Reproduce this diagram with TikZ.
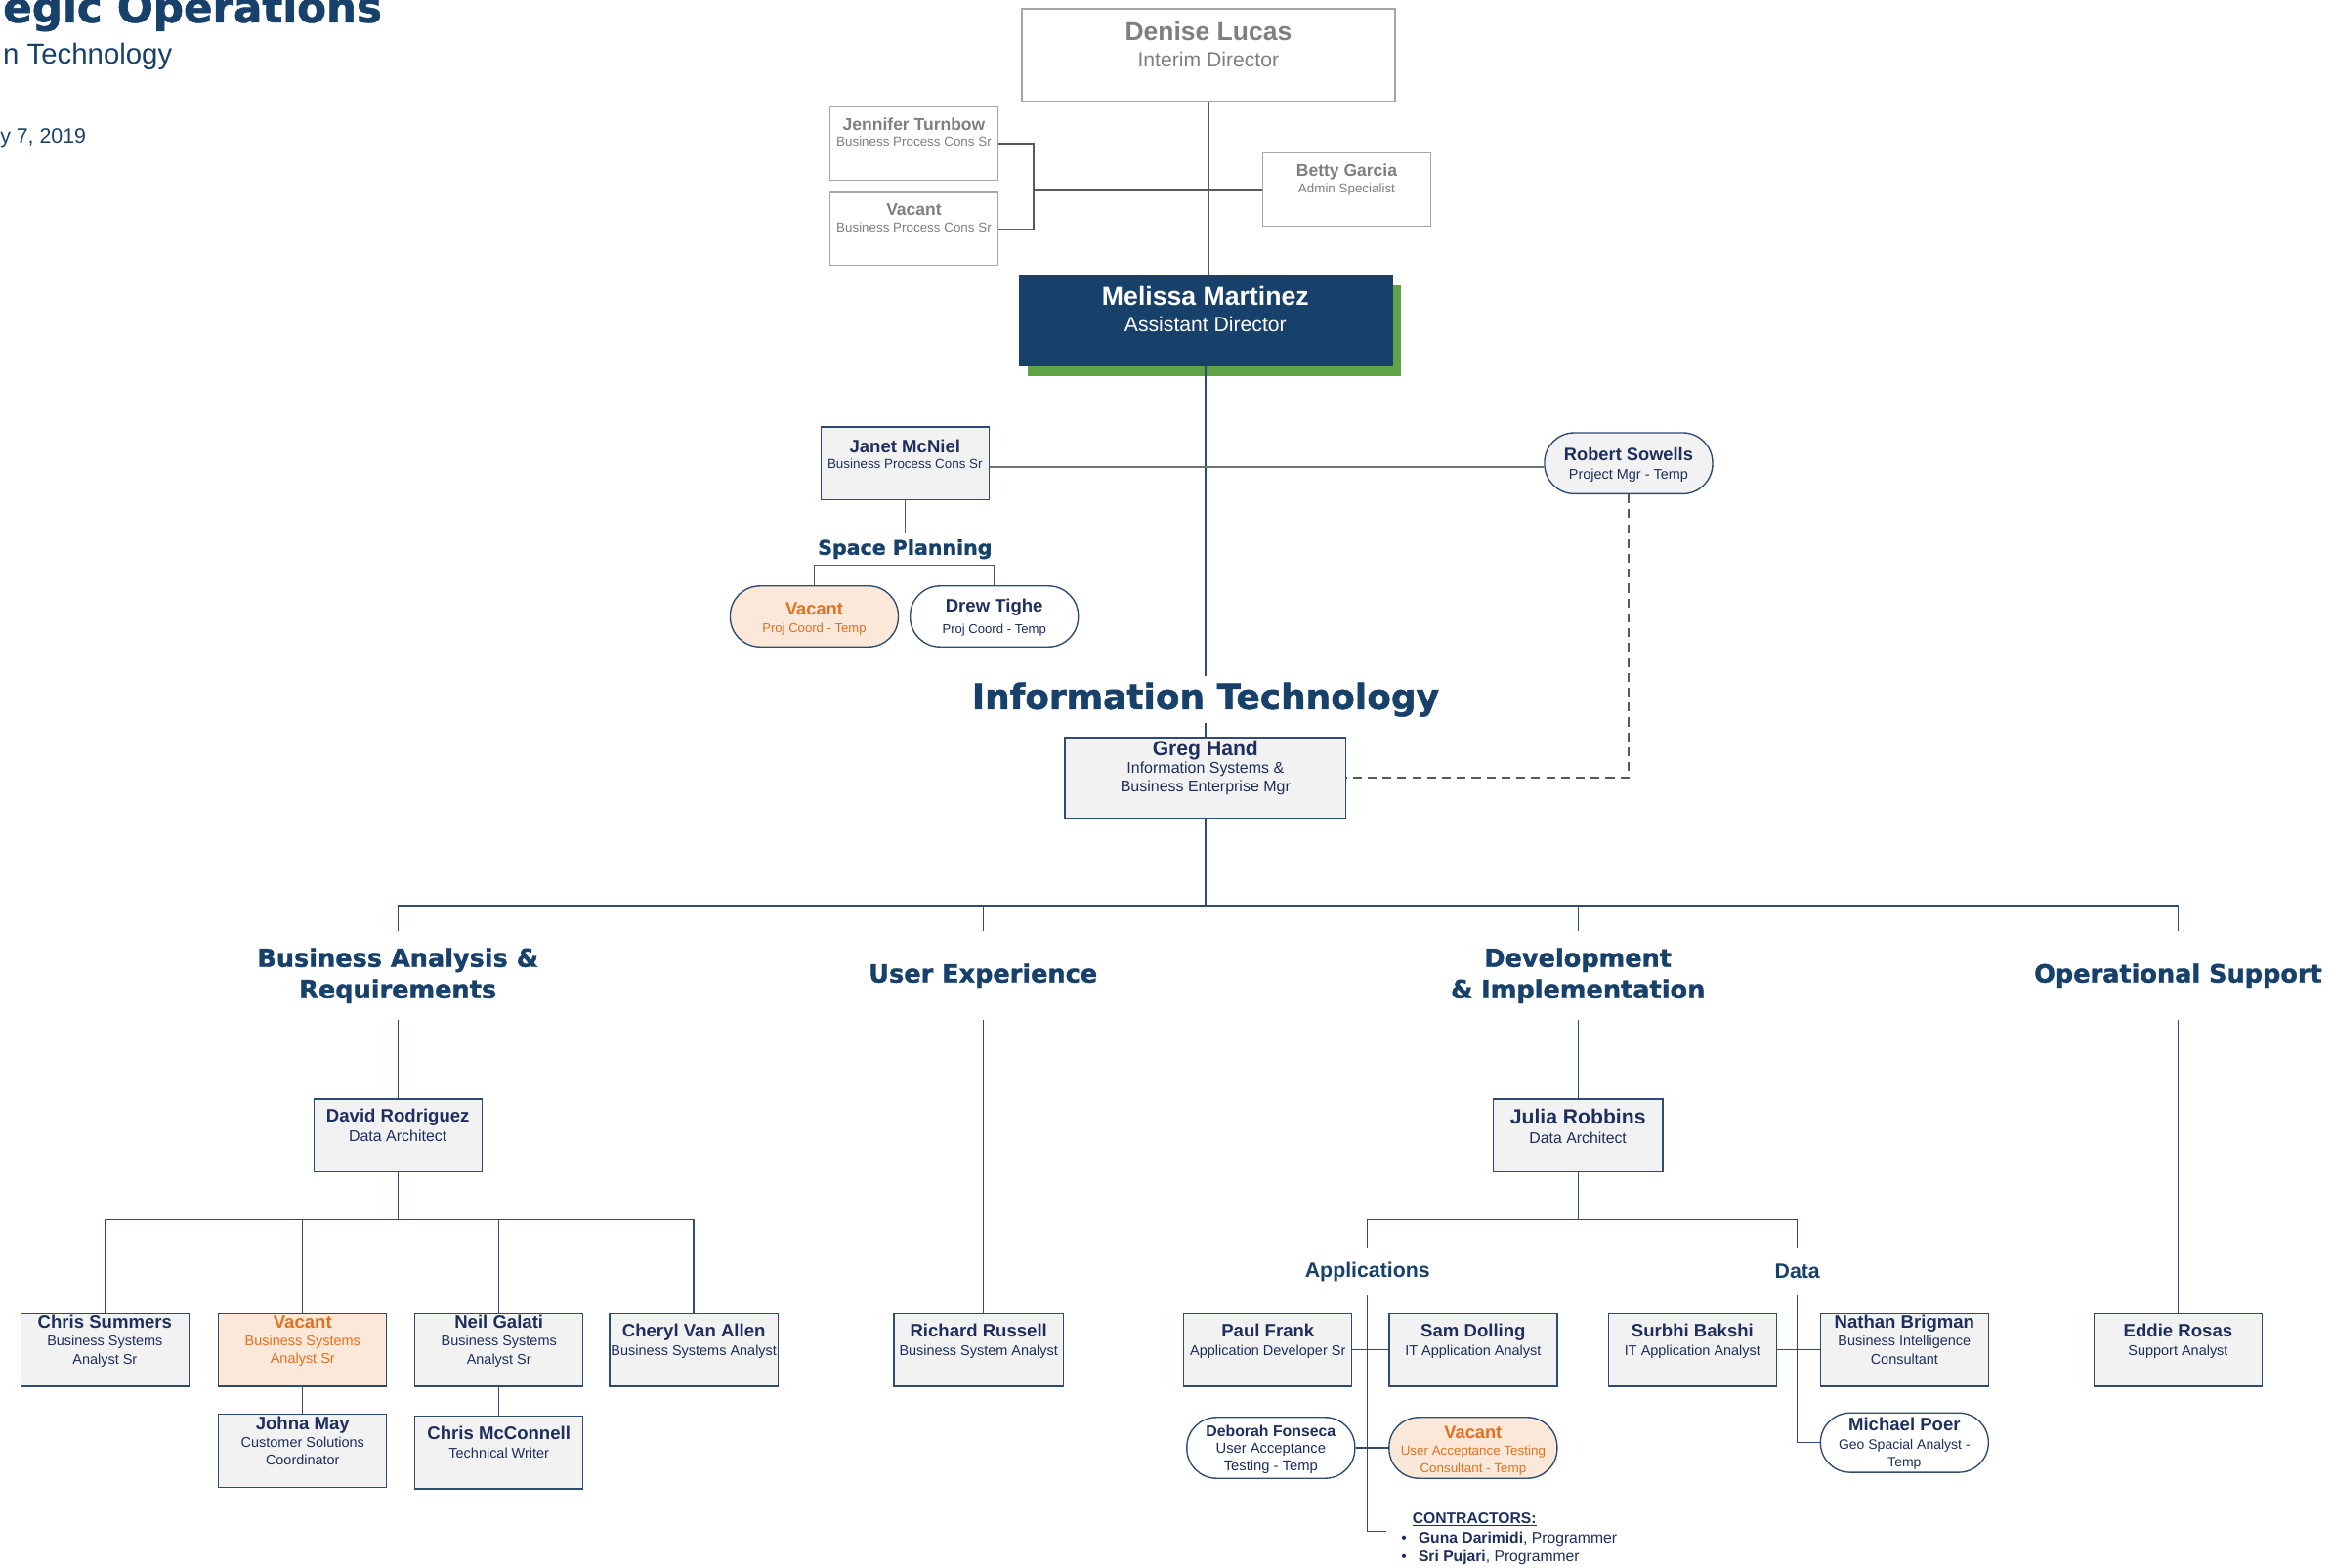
\documentclass[tikz,border=0pt]{standalone}
\usepackage{fontspec}
\setmainfont{Liberation Sans}
\newfontfamily\headfont{DejaVu Sans}[BoldFeatures={FakeBold=1.4}]
\usetikzlibrary{shadows}

\definecolor{itnavy}{HTML}{17416B}
\definecolor{namenavy}{HTML}{1E2F5E}
\definecolor{linenavy}{HTML}{2E4C72}
\definecolor{cardfill}{HTML}{F2F2F2}
\definecolor{vacfill}{HTML}{FBE8D9}
\definecolor{vacorange}{HTML}{E2701F}
\definecolor{topgray}{HTML}{7F7F7F}
\definecolor{topedge}{HTML}{A6A6A6}
\definecolor{topline}{HTML}{595959}
\definecolor{leadgreen}{HTML}{5FA346}

% card text: bold name line, then the role lines, lifted a little above centre
\newcommand{\cardlift}{5}
\newcommand{\setcardfont}[3]{\fontsize{#2}{#3}\selectfont\def\namefont{\fontsize{#1}{#3}\selectfont\bfseries}}
\newcommand{\cardtext}[2]{\raisebox{\cardlift pt}[\height][\depth]{\begin{tabular}{@{}c@{}}{\namefont #1}\\#2\end{tabular}}}

\begin{document}
\begin{tikzpicture}[
        x=1pt, y=-1pt,
        card/.style={draw=linenavy, fill=cardfill, line width=0.9pt, inner sep=0pt, minimum width=113, minimum height=49, text=namenavy, font=\setcardfont{12.2}{9.5}{12}},
        pill/.style={card, fill=white, rounded corners=20, minimum height=41, font=\setcardfont{12}{9.5}{12}\def\cardlift{-2}},
        vacant/.style={fill=vacfill, text=vacorange},
        topbox/.style={draw=topedge, fill=white, line width=0.9pt, inner sep=0pt, minimum width=113, minimum height=49, text=topgray, font=\setcardfont{11.5}{8.8}{11}\def\cardlift{6}},
        lead/.style={draw=itnavy, fill=itnavy, text=white, inner sep=0pt, minimum width=251, minimum height=61, drop shadow={shadow xshift=6pt, shadow yshift=-7pt, fill=leadgreen, opacity=1}, font=\setcardfont{17.5}{13.9}{18}\def\cardlift{4.8}},
        unit/.style={text=itnavy, align=center, inner sep=0pt, minimum height=59, font=\headfont\bfseries\fontsize{16.8}{21}\selectfont},
        ithead/.style={text=itnavy, inner sep=4pt, font=\headfont\bfseries\fontsize{23.6}{28}\selectfont},
        spacehead/.style={text=itnavy, inner sep=4pt, font=\headfont\bfseries\fontsize{13.5}{16}\selectfont},
        sublabel/.style={text=itnavy, inner sep=0pt, minimum height=32, font=\bfseries\fontsize{14}{16}\selectfont},
        orgline/.style={draw=linenavy, line width=0.9pt},
        grayline/.style={draw=topline, line width=0.9pt},
        linkline/.style={draw=topline!85, line width=1.3pt},
        dashline/.style={draw=topline, line width=0.9pt, dash pattern=on 6pt off 4pt}
    ]
    \useasboundingbox (0,0) rectangle (1568,1054);
    \clip (0,0) rectangle (1568,1054);

    % ======================================
    % Title (cut by the page edge)
    % ======================================
    \node[anchor=base east, inner sep=0pt, text=itnavy, font=\headfont\bfseries\fontsize{28.6}{32}\selectfont] (ttl) at (257,15) {egic Operations};
    \node[anchor=base east, inner sep=0pt, text=itnavy, font=\fontsize{19.3}{22}\selectfont] (subttl) at (116,43) {n Technology};
    \node[anchor=base east, inner sep=0pt, text=itnavy, font=\fontsize{14}{16}\selectfont] (date) at (58,96) {y 7, 2019};

    % ======================================
    % Directors
    % ======================================
    \node[topbox, minimum width=251, minimum height=62, font={\setcardfont{17.4}{13.9}{18}\def\cardlift{4.5}}] (dl) at (812.5,37) {\cardtext{Denise Lucas}{Interim Director}};
    \node[topbox] (jt) at (614.5,96.5) {\cardtext{Jennifer Turnbow}{Business Process Cons Sr}};
    \node[topbox] (vg) at (614.5,154) {\cardtext{Vacant}{Business Process Cons Sr}};
    \node[topbox] (bg) at (905.5,127.5) {\cardtext{Betty Garcia}{Admin Specialist}};
    \node[lead] (mm) at (810.5,215.5) {\cardtext{Melissa Martinez}{Assistant Director}};

    \node[card, font={\setcardfont{12.2}{8.8}{10.5}\def\cardlift{4.7}}] (jn) at (608.5,311.5) {\cardtext{Janet McNiel}{Business Process Cons Sr}};
    \node[pill, fill=cardfill] (rs) at (1095,311.5) {\cardtext{Robert Sowells}{Project Mgr - Temp}};

    % Space Planning
    \node[spacehead] (sp) at (608.5,369.3) {Space Planning};
    \node[pill, vacant, font={\setcardfont{12}{8.6}{11.8}\def\cardlift{-2.3}}] (vp) at (547.5,414.5) {\cardtext{Vacant}{Proj Coord - Temp}};
    \node[pill, font={\setcardfont{12.2}{8.6}{14.8}\def\cardlift{-1.2}}] (dt) at (668.5,414.5) {\cardtext{Drew Tighe}{Proj Coord - Temp}};

    % ======================================
    % Information Technology
    % ======================================
    \node[ithead] (ith) at (810.5,470.4) {Information Technology};
    \node[card, minimum width=189, minimum height=54, font={\setcardfont{13.9}{10.5}{12.3}\def\cardlift{6}}] (gh) at (810.5,523) {\cardtext{Greg Hand}{Information Systems \&\\Business Enterprise Mgr}};

    \node[unit] (hba) at (267.5,656) {Business Analysis \&\\Requirements};
    \node[unit] (hux) at (661,656) {User Experience};
    \node[unit] (hdev) at (1061,656) {Development\\\& Implementation};
    \node[unit] (hops) at (1464.5,656) {Operational Support};

    % Business Analysis & Requirements
    \node[card, font={\setcardfont{12.2}{10.5}{13.2}\def\cardlift{5.2}}] (dr) at (267.5,763.5) {\cardtext{David Rodriguez}{Data Architect}};
    \node[card] (cs) at (70.5,907.5) {\cardtext{Chris Summers}{Business Systems\\Analyst Sr}};
    \node[card, vacant] (vb) at (203.5,907.5) {\cardtext{Vacant}{Business Systems\\Analyst Sr}};
    \node[card] (ng) at (335.5,907.5) {\cardtext{Neil Galati}{Business Systems\\Analyst Sr}};
    \node[card] (cv) at (466.5,907.5) {\cardtext{Cheryl Van Allen}{Business Systems Analyst}};
    \node[card] (jmy) at (203.5,975.5) {\cardtext{Johna May}{Customer Solutions\\Coordinator}};
    \node[card] (cmc) at (335.5,976.5) {\cardtext{Chris McConnell}{Technical Writer}};

    % User Experience
    \node[card, minimum width=114] (rr) at (658,907.5) {\cardtext{Richard Russell}{Business System Analyst}};

    % Development & Implementation
    \node[card, minimum width=114, font={\setcardfont{13.9}{10.4}{13.1}\def\cardlift{4.2}}] (jr) at (1061,763.5) {\cardtext{Julia Robbins}{Data Architect}};
    \node[sublabel] (apps) at (919.5,855) {Applications};
    \node[sublabel] (data) at (1208.5,855) {Data};
    \node[card] (pf) at (852.5,907.5) {\cardtext{Paul Frank}{Application Developer Sr}};
    \node[card] (sd) at (990.5,907.5) {\cardtext{Sam Dolling}{IT Application Analyst}};
    \node[pill, font={\setcardfont{10.4}{9.7}{11.5}\def\cardlift{-1.4}}] (df) at (854.5,973.5) {\cardtext{Deborah Fonseca}{User Acceptance\\Testing - Temp}};
    \node[pill, vacant, font={\setcardfont{12}{8.8}{11.5}\def\cardlift{-2.7}}] (vu) at (990.5,973.5) {\cardtext{Vacant}{User Acceptance Testing\\Consultant - Temp}};
    \node[card] (sb) at (1138,907.5) {\cardtext{Surbhi Bakshi}{IT Application Analyst}};
    \node[card] (nb) at (1280.5,907.5) {\cardtext{Nathan Brigman}{Business Intelligence\\Consultant}};
    \node[pill, minimum height=40, font={\setcardfont{12.2}{9.2}{12.3}\def\cardlift{-1.6}}] (mp) at (1280.5,970) {\cardtext{Michael Poer}{Geo Spacial Analyst -\\Temp}};
    \node[anchor=north west, inner sep=0pt, text=namenavy, font=\fontsize{10.3}{13}\selectfont] (ctrs) at (942,1015) {%
        \begin{tabular}{@{}l@{\hspace{8pt}}l@{}}
            \multicolumn{2}{@{\hspace{7.5pt}}l@{}}{\textbf{\underline{CONTRACTORS:}}}\\
            \textbullet & \textbf{Guna Darimidi}, Programmer\\
            \textbullet & \textbf{Sri Pujari}, Programmer
        \end{tabular}};

    % Operational Support
    \node[card] (er) at (1464.5,907.5) {\cardtext{Eddie Rosas}{Support Analyst}};

    % ======================================
    % Connectors
    % ======================================
    \coordinate (adm) at (695,127.5);
    \coordinate (bus) at (810.5,609);
    \coordinate (babus) at (267.5,820);
    \coordinate (devbus) at (1061,820);
    \coordinate (ctr) at (932,1029.5);

    \draw[grayline] (dl.south) -- (dl.south |- mm.north);
    \draw[grayline] (jt.east) -| (adm) |- (vg.east);
    \draw[grayline] (adm) -- (bg.west);

    \draw[orgline] (mm.south) -- (ith.north);
    \draw[orgline] (ith.south) -- (gh.north);
    \draw[linkline] ([yshift=-2.5pt]jn.east) -- ([yshift=-2.5pt]rs.west);
    \draw[grayline] (jn.south) -- (sp.north);
    \draw[grayline] (vp.north) |- (sp.south) -| (dt.north);
    \draw[dashline] (rs.south) |- (gh.east);

    % units
    \draw[orgline] (gh.south) -- (bus);
    \draw[orgline] (hba.north) |- (bus) -| (hops.north);
    \foreach \u in {hux,hdev}
        \draw[orgline] (\u.north) -- (\u.north |- bus);

    % Business Analysis & Requirements
    \draw[orgline] (hba.south) -- (dr.north);
    \draw[orgline] (dr.south) -- (babus);
    \draw[orgline] (cs.north) |- (babus) -| (cv.north);
    \foreach \n in {vb,ng}
        \draw[orgline] (\n.north) -- (\n.north |- babus);
    \draw[orgline] (vb.south) -- (jmy.north);
    \draw[orgline] (ng.south) -- (cmc.north);

    % User Experience
    \draw[orgline] (hux.south) -- (hux.south |- rr.north);

    % Development & Implementation
    \draw[orgline] (hdev.south) -- (jr.north);
    \draw[orgline] (jr.south) -- (devbus);
    \draw[orgline] (apps.north) |- (devbus) -| (data.north);
    \draw[orgline] (apps.south) |- (ctr);
    \draw[orgline] (pf.east) -- (sd.west);
    \draw[orgline] (df.east) -- (vu.west);
    \draw[orgline] (data.south) |- (mp.west);
    \draw[orgline] (sb.east) -- (nb.west);

    % Operational Support
    \draw[orgline] (hops.south) -- (er.north);

\end{tikzpicture}
\end{document}
